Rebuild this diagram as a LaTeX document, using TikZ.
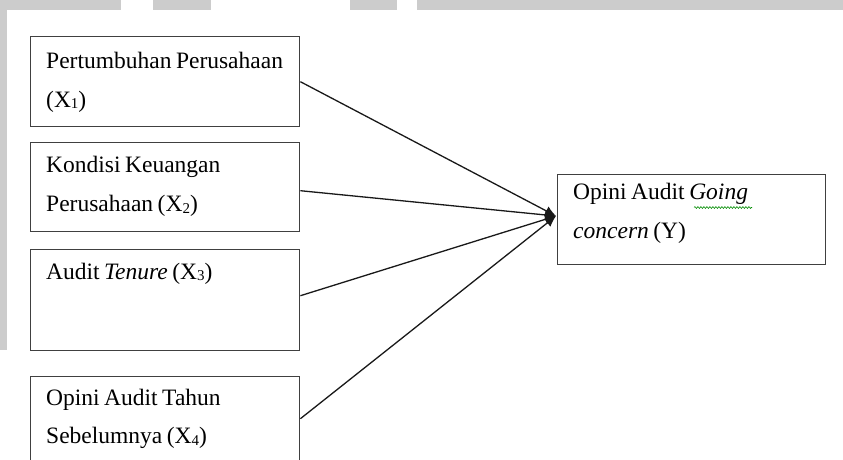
\documentclass[tikz,border=0pt]{standalone}
\usepackage{fontspec}
\setmainfont{Liberation Serif}
\usetikzlibrary{arrows.meta,decorations.pathmorphing}
\newcommand{\mysub}[1]{\raisebox{-1.5pt}{\fontsize{15}{15}\selectfont #1}}
\newcommand{\lblfont}{\fontsize{23.5}{28}\selectfont\spaceskip=4.5pt plus 1pt\relax}
\begin{document}
\begin{tikzpicture}[x=1pt,y=-1pt,
  box/.style={draw=black!75, line width=1.4pt, minimum width=269pt, anchor=north west, inner sep=0pt},
  lbl/.style={anchor=base west, inner sep=0pt, font=\lblfont},
  conn/.style={line width=1.3pt, draw=black!90, -{Latex[length=11pt,width=10pt]}},
  bar/.style={fill=black!20, draw=none}]
\useasboundingbox (0,0) rectangle (843,459);
\fill[white] (0,0) rectangle (843,459);
% top grey bars and left strip
\fill[bar] (0,0) rectangle (121,10);
\fill[bar] (153,0) rectangle (211,10);
\fill[bar] (350,0) rectangle (397,10);
\fill[bar] (417,0) rectangle (843,10);
\fill[bar] (0,0) rectangle (7,350);
% boxes
\node[box, minimum height=90pt]  (b1) at (30,36)  {};
\node[box, minimum height=89pt]  (b2) at (30,142) {};
\node[box, minimum height=101pt] (b3) at (30,249) {};
\node[box, minimum height=84pt]  (b4) at (30,376) {};
\node[box, minimum width=268pt, minimum height=90pt] (y) at (557,174) {};
% texts
\node[lbl] (t1a) at (46,68)  {Pertumbuhan Perusahaan};
\node[lbl] (t1b) at (46,107) {(X\mysub{1})};
\node[lbl] (t2a) at (46,172) {Kondisi Keuangan};
\node[lbl] (t2b) at (46,211.5) {Perusahaan (X\mysub{2})};
\node[lbl] (t3a) at (46,279) {Audit \textit{Tenure} (X\mysub{3})};
\node[lbl] (t4a) at (46,405) {Opini Audit Tahun};
\node[lbl] (t4b) at (46,443.5) {Sebelumnya (X\mysub{4})};
\node[lbl] (tya) at (573,199) {Opini Audit \textit{Going}};
\node[lbl] (tyb) at (573,238) {\textit{concern} (Y)};
% spell-check underline
\draw[green!55!black, line width=0.6pt, decorate,
      decoration={snake, amplitude=0.9pt, segment length=3pt}] (694,207.5) -- (752,207.5);
% connectors
\coordinate (tip) at (556,216);
\draw[conn] (b1.east) -- (tip);
\draw[conn] ([yshift=-3.5pt]b2.east) -- (tip);
\draw[conn] ([yshift=4.5pt]b3.east) -- (tip);
\draw[conn] (b4.east) -- (tip);
\end{tikzpicture}
\end{document}
